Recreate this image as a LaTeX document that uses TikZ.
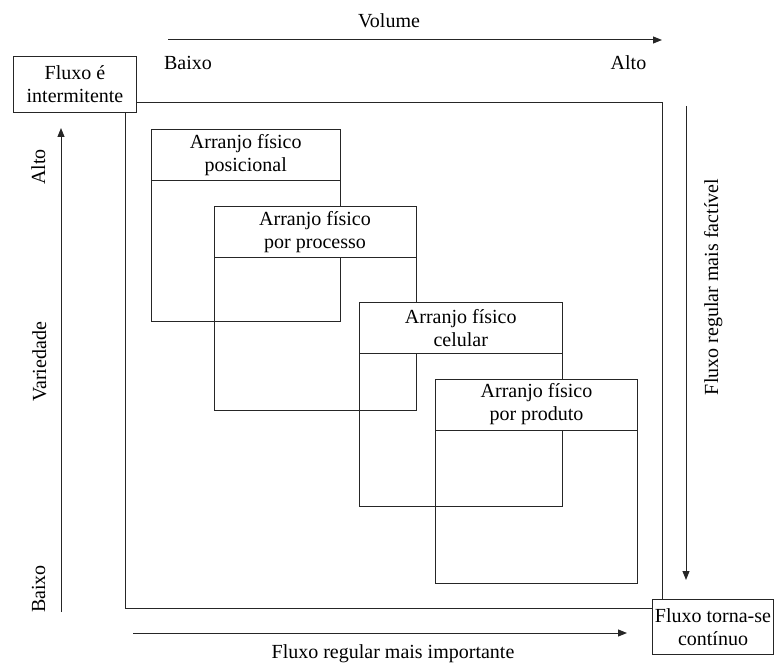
\documentclass[tikz,border=0pt]{standalone}
\usepackage{fontspec}
\setmainfont{Liberation Serif}
\usetikzlibrary{arrows.meta}
\begin{document}
\begin{tikzpicture}[x=1pt,y=-1pt,
  every node/.style={font=\fontsize{20}{23}\selectfont, inner sep=0pt},
  edge/.style={draw=black!85, line width=1pt},
  flowarrow/.style={edge, -{Triangle[length=9pt,width=7pt]}},
  cornerbox/.style={edge, fill=white, align=center, anchor=north west},
  body/.style={edge, anchor=north west},
  header/.style={edge, fill=white, align=center, anchor=north west, minimum height=51pt},
  lbl/.style={anchor=base},
]
\useasboundingbox (0,0) rectangle (774,663);

% corner boxes
\node[cornerbox, minimum width=123pt, minimum height=56pt] (start) at (13,56) {Fluxo é\\intermitente};
\node[cornerbox, minimum width=121pt, minimum height=55pt] (finish) at (652,599) {Fluxo torna-se\\contínuo};

% outer square, from box to box
\coordinate (sqNW) at (125,103);
\coordinate (sqSE) at (662.7,608);
\draw[edge] (start.east |- sqNW) -- (sqNW -| sqSE) -- (sqSE |- finish.north);
\draw[edge] (sqNW |- start.south) -- (sqNW |- sqSE) -- (finish.west |- sqSE);

% layout types: open body, white header on top
\node[body, minimum width=189.5pt, minimum height=192pt] (posB) at (150.5,129) {};
\node[header, minimum width=189.5pt] (posH) at (150.5,129) {Arranjo físico\\posicional};
\node[body, minimum width=202pt, minimum height=204pt] (proB) at (213.5,206) {};
\node[header, minimum width=202pt] (proH) at (213.5,206) {Arranjo físico\\por processo};
\node[body, minimum width=202.5pt, minimum height=204pt] (celB) at (359,302) {};
\node[header, minimum width=202.5pt] (celH) at (359,302) {Arranjo físico\\celular};
\node[body, minimum width=202pt, minimum height=204.5pt] (prdB) at (435,378.5) {};
\node[header, minimum width=202pt] (prdH) at (435,378.5) {Arranjo físico\\por produto};

% volume axis
\coordinate (volS) at (168,40);
\coordinate (volE) at (662,40);
\draw[flowarrow] (volS) -- (volE);
\node[lbl] (volume) at (389,28) {Volume};
\node[lbl] (volLow) at (188,69.5) {Baixo};
\node[lbl] (volHigh) at (628.5,69.5) {Alto};

% variety axis
\coordinate (varS) at (61,612);
\coordinate (varE) at (61,128);
\draw[flowarrow] (varS) -- (varE);
\node[lbl, rotate=90] (varHigh) at (45,167) {Alto};
\node[lbl, rotate=90] (variety) at (46,362) {Variedade};
\node[lbl, rotate=90] (varLow) at (45,589) {Baixo};

% regular flow, right side
\coordinate (regS) at (686,106);
\coordinate (regE) at (686,580);
\draw[flowarrow] (regS) -- (regE);
\node[lbl, rotate=90] (feasible) at (718,287) {Fluxo regular mais factível};

% regular flow, bottom side
\coordinate (impS) at (133,633);
\coordinate (impE) at (627,633);
\draw[flowarrow] (impS) -- (impE);
\node[lbl] (important) at (393,658) {Fluxo regular mais importante};
\end{tikzpicture}
\end{document}
